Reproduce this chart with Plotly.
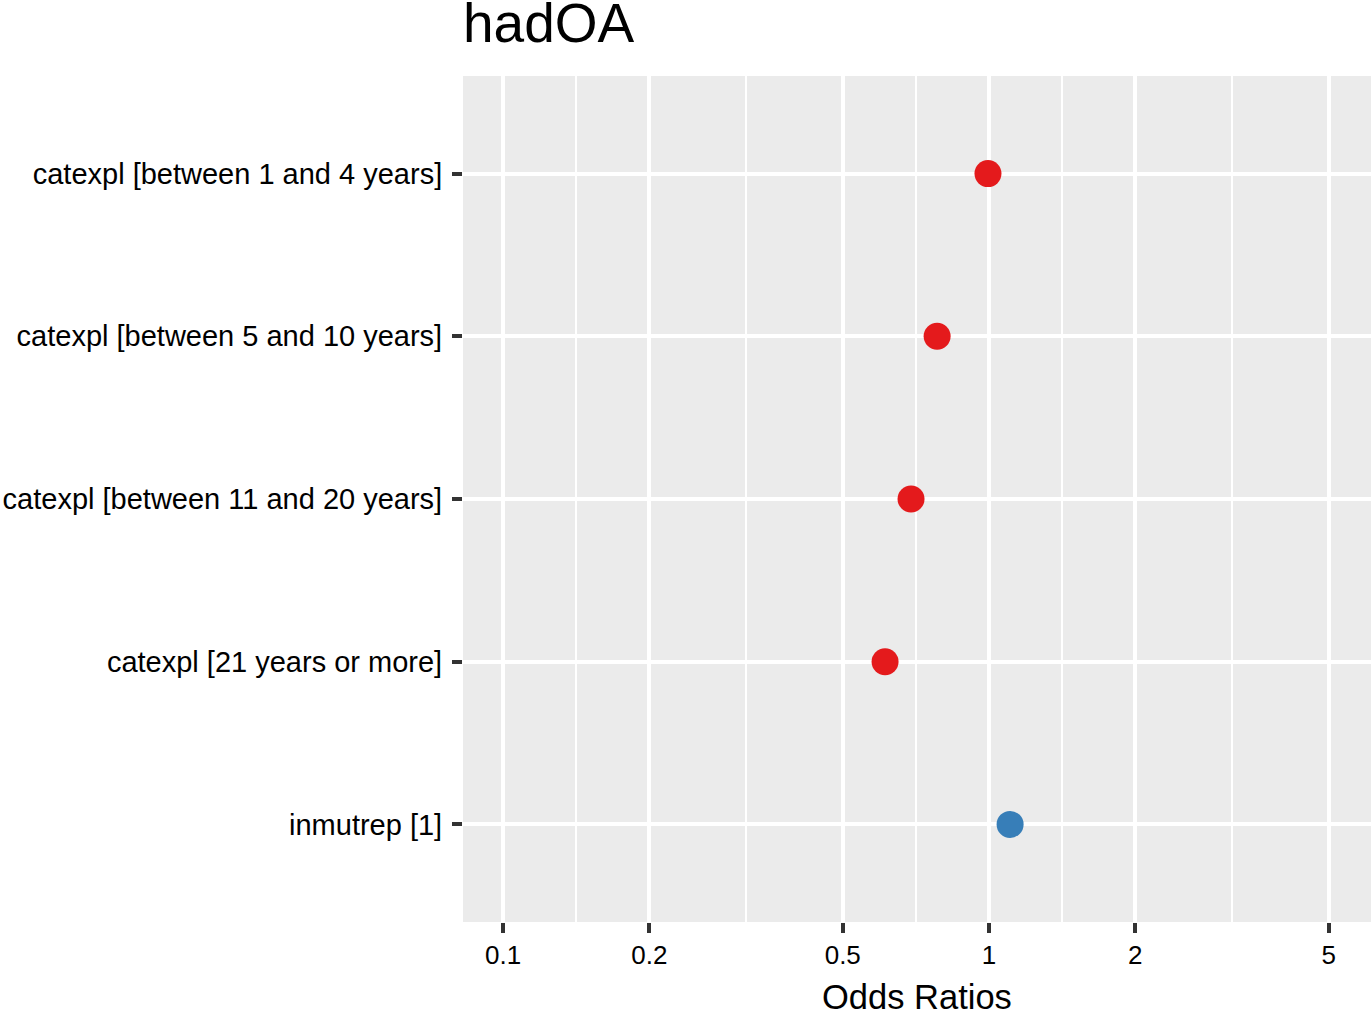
import plotly.graph_objects as go
import math

terms = [
    "catexpl [between 1 and 4 years]",
    "catexpl [between 5 and 10 years]",
    "catexpl [between 11 and 20 years]",
    "catexpl [21 years or more]",
    "inmutrep [1]",
]
odds_ratios = [0.995, 0.782, 0.691, 0.611, 1.105]
x_ticks = [0.1, 0.2, 0.5, 1, 2, 5]
x_tick_labels = ["0.1", "0.2", "0.5", "1", "2", "5"]
minor_ticks = [0.1414, 0.3162, 0.7071, 1.4142, 3.1623]

RED = "#E41A1C"
BLUE = "#377EB8"
colors = [RED if v < 1 else BLUE for v in odds_ratios]

FONT = "Liberation Sans, Arial, Helvetica, sans-serif"

W, H = 1371, 1009

fig = go.Figure()
fig.add_trace(go.Scatter(
    x=odds_ratios, y=terms, mode="markers",
    marker=dict(size=27, color=colors, line=dict(width=0)),
    showlegend=False, hoverinfo="x+y",
))

fig.update_layout(
    width=W, height=H,
    margin=dict(l=463, r=0, t=76, b=H - 922, pad=0),
    paper_bgcolor="white",
    plot_bgcolor="#EBEBEB",
    font=dict(family=FONT, color="black"),
    title=dict(text="hadOA", x=0, xref="paper", xanchor="left",
               y=1 - 23 / H, yref="container", yanchor="middle",
               font=dict(size=55, family=FONT, color="black")),
    xaxis=dict(
        type="log",
        range=[math.log10(0.0827), math.log10(6.11)],
        tickvals=x_ticks, ticktext=x_tick_labels,
        showgrid=True, gridcolor="white", gridwidth=4,
        ticks="outside", ticklen=10, tickwidth=4, tickcolor="#333333",
        tickfont=dict(size=26, color="black"),
        zeroline=False, showline=False,
        automargin=False,
        minor=dict(tickvals=minor_ticks, showgrid=True, gridcolor="white",
                   gridwidth=2, ticks=""),
    ),
    yaxis=dict(
        type="category",
        categoryorder="array", categoryarray=terms,
        range=[4.6, -0.6],
        showgrid=True, gridcolor="white", gridwidth=4,
        ticks="outside", ticklen=10, tickwidth=3.5, tickcolor="#333333",
        tickfont=dict(size=29, color="black"),
        ticklabelstandoff=4,
        automargin=False,
        zeroline=False, showline=False,
    ),
    annotations=[dict(
        text="Odds Ratios", xref="paper", yref="paper", x=0.5, y=0,
        xanchor="center", yanchor="middle", yshift=-75, showarrow=False,
        font=dict(size=34.5, family=FONT, color="black"),
    )],
)

fig.write_html(
    "out.html",
    config={"displayModeBar": False},
    post_script="document.body.style.margin='0';document.body.style.padding='0';",
)
